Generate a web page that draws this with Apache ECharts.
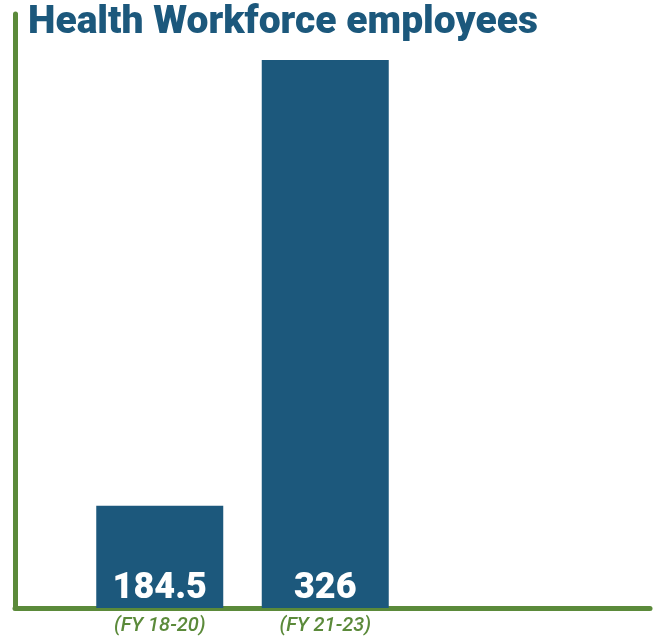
<!DOCTYPE html>
<html>
<head>
<meta charset="utf-8">
<script src="https://cdn.jsdelivr.net/npm/echarts@6/dist/echarts.min.js"></script>
<style>
html,body{margin:0;padding:0;background:#fff;}
#chart{width:656px;height:636px;}
</style>
</head>
<body>
<div id="chart"></div>
<script>
const titleText = 'Health Workforce employees';
const categories = ['(FY 18-20)', '(FY 21-23)'];
const values = [184.5, 326];

const green = '#5b8a3a';
const blue = '#1c587c';

const chart = echarts.init(document.getElementById('chart'), null, {renderer: 'canvas'});
chart.setOption({
  backgroundColor: '#ffffff',
  animation: false,
  title: {
    text: titleText,
    left: 23,
    top: -1,
    textStyle: {
      fontFamily: 'Roboto',
      fontWeight: 900,
      fontSize: 39,
      color: blue
    }
  },
  grid: [
    {left: 15, right: 6, top: 14, bottom: 28},
    {left: 77, width: 331, top: 60, bottom: 28}
  ],
  xAxis: [
    {
      gridIndex: 0, type: 'value', min: 0, max: 1,
      axisLine: {show: true, lineStyle: {color: green, width: 5}},
      axisTick: {show: false}, axisLabel: {show: false}, splitLine: {show: false}
    },
    {
      gridIndex: 1, type: 'category', data: categories,
      axisLine: {show: false}, axisTick: {show: false},
      axisLabel: {
        margin: 8,
        color: green,
        fontFamily: 'Roboto',
        fontStyle: 'italic',
        fontWeight: 500,
        fontSize: 20
      }
    }
  ],
  yAxis: [
    {
      gridIndex: 0, type: 'value', min: 0, max: 1,
      axisLine: {show: true, lineStyle: {color: green, width: 5}},
      axisTick: {show: false}, axisLabel: {show: false}, splitLine: {show: false}
    },
    {
      gridIndex: 1, type: 'value', min: 152, max: 326, show: false
    }
  ],
  series: [
    {
      type: 'bar',
      xAxisIndex: 1, yAxisIndex: 1,
      data: values,
      barWidth: 127,
      z: 1,
      itemStyle: {color: blue},
      label: {
        show: true,
        position: 'insideBottom',
        distance: 1,
        color: '#ffffff',
        fontFamily: 'Roboto',
        fontWeight: 900,
        fontSize: 36
      }
    }
  ]
});
</script>
</body>
</html>
